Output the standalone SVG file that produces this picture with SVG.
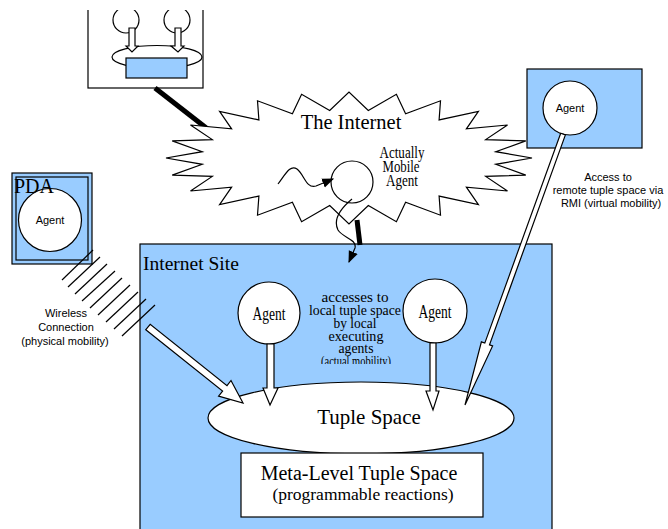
<svg xmlns="http://www.w3.org/2000/svg" width="668" height="529" viewBox="0 0 668 529">
  <style>
    .ln { fill: none; stroke: #000; stroke-width: 1.2; }
    .wh { fill: #fff; stroke: #000; stroke-width: 1.2; }
    .bl { fill: #99ccff; stroke: #000; stroke-width: 1.2; }
    .serif { font-family: "Liberation Serif", "Times New Roman", serif; fill: #000; }
    .sans { font-family: "Liberation Sans", Arial, sans-serif; fill: #000; font-size: 11px; }
    .mid { text-anchor: middle; }
  </style>
  <defs>
    <clipPath id="topClip"><rect x="0" y="10" width="668" height="519"/></clipPath>
    <clipPath id="noteClip"><rect x="300" y="285" width="120" height="79"/></clipPath>
    <marker id="head2" viewBox="0 0 10 10" refX="9" refY="5" markerWidth="12" markerHeight="12" orient="auto" markerUnits="userSpaceOnUse">
      <path d="M0,1 L10,5 L0,9 z" fill="#000"/>
    </marker>
  </defs>

  <rect width="668" height="529" fill="#fff"/>

  <!-- remote host (top left) -->
  <g id="host" clip-path="url(#topClip)">
    <rect class="wh" x="88" y="0" width="115" height="88"/>
    <circle class="wh" cx="126" cy="20" r="13"/>
    <circle class="wh" cx="177" cy="20" r="13"/>
    <ellipse class="wh" cx="157" cy="57" rx="45" ry="11.5"/>
    <polygon class="wh" points="129,28 135,28 135,46 138,46 132,52 126,46 129,46"/>
    <polygon class="wh" points="175,28 181,28 181,46 184,46 178,52 171,46 175,46"/>
    <rect class="bl" x="126" y="58" width="61" height="20"/>
  </g>

  <!-- Internet Site -->
  <g id="site">
    <rect class="bl" x="140" y="244" width="412" height="300"/>
    <text class="serif" x="143" y="270" font-size="19.5">Internet Site</text>
  </g>

  <!-- remote agent host (top right) -->
  <g id="remote">
    <rect class="bl" x="527" y="69" width="115" height="79"/>
  </g>

  <g id="connectors">
    <!-- wired link from host to the internet -->
    <line x1="155" y1="88" x2="214" y2="134" stroke="#000" stroke-width="5"/>
    <!-- link from the internet down to the site -->
    <line x1="357" y1="220" x2="360" y2="245" stroke="#000" stroke-width="5"/>
  </g>

  <!-- The Internet cloud -->
  <g id="internet">
    <polygon class="wh" points="532,158 495.7,164.3 525.8,175.1 485.7,176.4 507.5,191 466.4,187.2 478.4,204.7 439.1,196.1 440.5,215.2 405.6,202.3 396.4,221.7 368.3,205.6 349,224 329.7,205.6 301.6,221.7 292.4,202.3 257.5,215.2 258.9,196.1 219.6,204.7 231.6,187.2 190.5,191 212.3,176.4 172.2,175.1 202.3,164.3 166,158 202.3,151.7 172.2,140.9 212.3,139.6 190.5,125 231.6,128.8 219.6,111.3 258.9,119.9 257.5,100.8 292.4,113.7 301.6,94.3 329.7,110.4 349,92 368.3,110.4 396.4,94.3 405.6,113.7 440.5,100.8 439.1,119.9 478.4,111.3 466.4,128.8 507.5,125 485.7,139.6 525.8,140.9 495.7,151.7"/>
    <text class="serif mid" x="351" y="129" font-size="20.5">The Internet</text>
  </g>

  <!-- mobile agent travelling through the internet -->
  <g id="mobile-agent">
    <circle class="wh" cx="352" cy="182" r="21"/>
    <text class="serif mid" x="402" y="158" font-size="16" textLength="45" lengthAdjust="spacingAndGlyphs">Actually</text>
    <text class="serif mid" x="401" y="172" font-size="16" textLength="37" lengthAdjust="spacingAndGlyphs">Mobile</text>
    <text class="serif mid" x="402" y="186" font-size="16" textLength="32" lengthAdjust="spacingAndGlyphs">Agent</text>
  </g>

  <g id="agent-paths">
    <path class="ln" d="M278,184 C285,175 290,164 297,169 C304,174 306,189 316,186 L333,179" marker-end="url(#head2)"/>
    <path class="ln" d="M352,199 C340,209 333,220 338,230 C343,238 357,239 355,248 L349,262" marker-end="url(#head2)"/>
  </g>

  <!-- PDA -->
  <g id="pda">
    <rect class="bl" x="12" y="173" width="80" height="91"/>
    <rect class="ln" x="16" y="177" width="72" height="83"/>
    <circle class="wh" cx="50" cy="220" r="31.5"/>
    <text class="serif" x="14" y="193" font-size="20">PDA</text>
    <text class="sans mid" x="50" y="224">Agent</text>
  </g>

  <!-- wireless link -->
  <g id="wireless" stroke="#000" stroke-width="1.2">
    <line x1="62" y1="280" x2="93" y2="250"/>
    <line x1="68" y1="287" x2="100" y2="257"/>
    <line x1="75" y1="294" x2="107" y2="264"/>
    <line x1="82" y1="301" x2="115" y2="271"/>
    <line x1="90" y1="308" x2="122" y2="278"/>
    <line x1="98" y1="315" x2="130" y2="285"/>
    <line x1="106" y1="322" x2="138" y2="292"/>
    <line x1="114" y1="329" x2="146" y2="299"/>
    <line x1="122" y1="336" x2="155" y2="305"/>
  </g>
  <g id="wireless-label">
    <text class="sans mid" x="66" y="317">Wireless</text>
    <text class="sans mid" x="66" y="331">Connection</text>
    <text class="sans mid" x="65" y="345">(physical mobility)</text>
  </g>

  <!-- remote access label -->
  <g id="rmi-label">
    <text class="sans mid" x="608" y="181">Access to</text>
    <text class="sans mid" x="608" y="194">remote tuple space via</text>
    <text class="sans mid" x="611" y="207">RMI (virtual mobility)</text>
  </g>

  <!-- Tuple Space -->
  <g id="tuple-space">
    <ellipse class="wh" cx="361" cy="418" rx="153" ry="36"/>
    <text class="serif mid" x="369" y="424" font-size="21">Tuple Space</text>
  </g>

  <!-- Meta-Level Tuple Space -->
  <g id="meta-level">
    <rect class="wh" x="241" y="453" width="242" height="64"/>
    <text class="serif mid" x="359" y="480" font-size="20">Meta-Level Tuple Space</text>
    <text class="serif mid" x="363" y="500" font-size="17.5">(programmable reactions)</text>
  </g>

  <!-- local access note -->
  <g id="local-note" clip-path="url(#noteClip)">
    <text class="serif mid" x="355" y="302" font-size="15" textLength="67" lengthAdjust="spacingAndGlyphs">accesses to</text>
    <text class="serif mid" x="355" y="315" font-size="15" textLength="92" lengthAdjust="spacingAndGlyphs">local tuple space</text>
    <text class="serif mid" x="355" y="328" font-size="15" textLength="43" lengthAdjust="spacingAndGlyphs">by local</text>
    <text class="serif mid" x="356" y="341" font-size="15" textLength="55" lengthAdjust="spacingAndGlyphs">executing</text>
    <text class="serif mid" x="356" y="353" font-size="15" textLength="35" lengthAdjust="spacingAndGlyphs">agents</text>
    <text class="serif mid" x="356" y="366" font-size="15" textLength="70" lengthAdjust="spacingAndGlyphs">(actual mobility)</text>
  </g>

  <!-- local agents -->
  <g id="agent-left">
    <circle class="wh" cx="269" cy="313" r="31"/>
    <text class="serif mid" x="269" y="320" font-size="19" textLength="33" lengthAdjust="spacingAndGlyphs">Agent</text>
  </g>
  <g id="agent-right">
    <circle class="wh" cx="435" cy="311" r="32"/>
    <text class="serif mid" x="435" y="318" font-size="19" textLength="33" lengthAdjust="spacingAndGlyphs">Agent</text>
  </g>

  <!-- remote agent -->
  <g id="agent-remote">
    <circle class="wh" cx="570" cy="108" r="27"/>
    <text class="sans mid" x="570" y="112">Agent</text>
  </g>

  <!-- access arrows into the tuple space -->
  <g id="access-arrows">
    <polygon class="wh" points="267,344 274,344 274,388 278,388 270,405 263,388 267,388"/>
    <polygon class="wh" points="430,343 436,343 436,391 439,391 433,410 426,391 430,391"/>
    <polygon class="wh" points="145.8,329.7 222.6,391 218.6,396.1 243,403 231,380.5 227,385.6 150.2,324.3"/>
    <polygon class="wh" points="565.4,134.9 489.5,344.8 492.6,345.9 465,405 481.4,341.9 484.8,343.1 560.7,133.2"/>
  </g>
</svg>
